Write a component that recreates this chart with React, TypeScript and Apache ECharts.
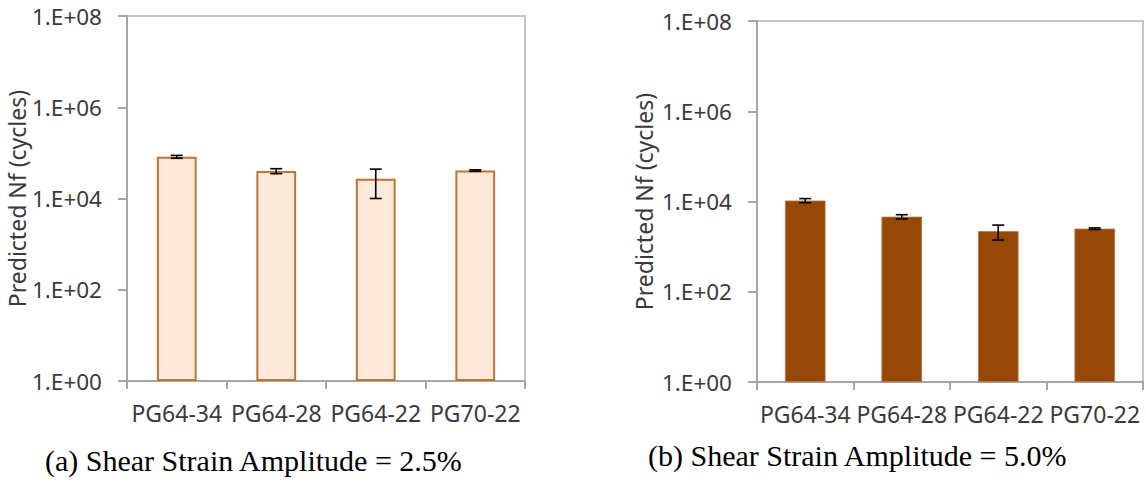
import React, { useEffect, useRef } from "react";
import * as echarts from "echarts";

const categories = ["PG64-34", "PG64-28", "PG64-22", "PG70-22"];
// (a) shear strain amplitude 2.5 %
const nf25 = [82000, 40000, 27000, 41000];
const err25 = [6000, 5000, 17000, 1500];
// (b) shear strain amplitude 5.0 %
const nf50 = [10500, 4600, 2200, 2500];
const err50 = [1100, 500, 800, 100];

const yMin = 1;
const yMax = 1e8;
const yLogInterval = 2;
const yTitle = "Predicted Nf (cycles)";
const captionA = "(a) Shear Strain Amplitude = 2.5%";
const captionB = "(b) Shear Strain Amplitude = 5.0%";

const FONT = "Noto Sans";
const LABEL_COLOR = "#3a3a3a";
const AXIS_COLOR = "#a6a6a6";

const fmt = (v: number) => {
  const e = Math.round(Math.log10(v));
  return "1.E+" + (e < 10 ? "0" + e : String(e));
};

const errData = (vals: number[], errs: number[]) =>
  vals.map((v, i) => [i, v - errs[i], v + errs[i]]);

const renderErr = (params: any, api: any) => {
  const x = api.value(0);
  const lo = api.value(1);
  const hi = api.value(2);
  const pHi = api.coord([x, hi]);
  const pLo = api.coord([x, lo]);
  const half = 6;
  const style = { stroke: "#000", lineWidth: 1.6 };
  return {
    type: "group",
    children: [
      { type: "line", shape: { x1: pHi[0], y1: pHi[1], x2: pLo[0], y2: pLo[1] }, style },
      { type: "line", shape: { x1: pHi[0] - half, y1: pHi[1], x2: pHi[0] + half, y2: pHi[1] }, style },
      { type: "line", shape: { x1: pLo[0] - half, y1: pLo[1], x2: pLo[0] + half, y2: pLo[1] }, style },
    ],
  };
};

const makeX = (gridIndex: number) => ({
  type: "category",
  gridIndex,
  data: categories,
  boundaryGap: true,
  axisLine: { show: true, lineStyle: { color: AXIS_COLOR, width: 2 } },
  axisTick: { show: true, length: 8, inside: false, lineStyle: { color: AXIS_COLOR, width: 2 } },
  axisLabel: { interval: 0, margin: 20, color: LABEL_COLOR, fontFamily: FONT, fontSize: 23 },
  splitLine: { show: false },
});

const makeY = (gridIndex: number, nameGap: number) => ({
  type: "log",
  gridIndex,
  logBase: 10,
  min: yMin,
  max: yMax,
  interval: yLogInterval,
  name: yTitle,
  nameLocation: "middle",
  nameRotate: 90,
  nameGap,
  nameTextStyle: { color: LABEL_COLOR, fontFamily: FONT, fontSize: 23 },
  axisLine: { show: true, lineStyle: { color: AXIS_COLOR, width: 2 } },
  axisTick: { show: true, length: 9, inside: false, lineStyle: { color: AXIS_COLOR, width: 2 } },
  axisLabel: { margin: 25, color: LABEL_COLOR, fontFamily: FONT, fontSize: 22.5, formatter: fmt },
  splitLine: { show: false },
});

export default function App() {
  const ref = useRef<HTMLDivElement>(null);
  useEffect(() => {
    document.body.style.margin = "0";
    if (!ref.current) return;
    const chart = echarts.init(ref.current, null, { renderer: "svg" });
    chart.setOption({
      animation: false,
      backgroundColor: "#ffffff",
      grid: [
        { left: 127, top: 16, width: 398, height: 365, show: true, borderColor: "#c4c4c4", borderWidth: 2, backgroundColor: "transparent" },
        { left: 757, top: 21, width: 386, height: 361, show: true, borderColor: "#c4c4c4", borderWidth: 2, backgroundColor: "transparent" },
      ],
      xAxis: [makeX(0), makeX(1)],
      yAxis: [makeY(0, 94), makeY(1, 102)],
      series: [
        {
          type: "bar",
          xAxisIndex: 0,
          yAxisIndex: 0,
          data: nf25,
          barWidth: "40%",
          itemStyle: { color: "#fde9d9", borderColor: "#bf7437", borderWidth: 2 },
        },
        {
          type: "custom",
          xAxisIndex: 0,
          yAxisIndex: 0,
          data: errData(nf25, err25),
          encode: { x: 0, y: [1, 2] },
          renderItem: renderErr,
          z: 5,
        },
        {
          type: "bar",
          xAxisIndex: 1,
          yAxisIndex: 1,
          data: nf50,
          barWidth: "42%",
          itemStyle: { color: "#974706", borderColor: "#b8733e", borderWidth: 0.8 },
        },
        {
          type: "custom",
          xAxisIndex: 1,
          yAxisIndex: 1,
          data: errData(nf50, err50),
          encode: { x: 0, y: [1, 2] },
          renderItem: renderErr,
          z: 5,
        },
      ],
      graphic: [
        {
          type: "text",
          x: 45,
          y: 460,
          style: {
            text: captionA,
            fontFamily: "Liberation Serif",
            fontSize: 30,
            fill: "#000",
            textVerticalAlign: "middle",
            textAlign: "left",
          },
        },
        {
          type: "text",
          x: 648,
          y: 455,
          style: {
            text: captionB,
            fontFamily: "Liberation Serif",
            fontSize: 30,
            fill: "#000",
            textVerticalAlign: "middle",
            textAlign: "left",
          },
        },
      ],
    });
    return () => chart.dispose();
  }, []);
  return <div ref={ref} style={{ width: 1146, height: 486 }} />;
}
